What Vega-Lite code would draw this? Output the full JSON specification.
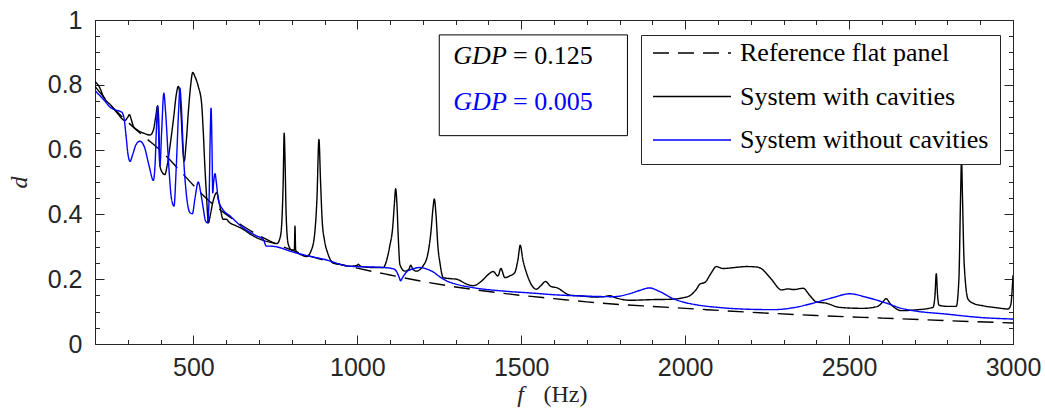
{
"$schema": "https://vega.github.io/schema/vega-lite/v6.json",
"width": 918,
"height": 324,
"autosize": {"type": "none"},
"padding": {"left": 95, "top": 20, "right": 32, "bottom": 75},
"background": "white",
"config": {
  "view": {"stroke": "#262626", "strokeWidth": 1},
  "axis": {"grid": false, "domain": false, "tickColor": "#262626", "tickWidth": 1, "labelFont": "Liberation Sans", "labelFontSize": 25, "labelColor": "#262626", "titleFont": "Liberation Serif", "titleFontSize": 24, "titleColor": "#262626", "titleFontWeight": "normal", "labelFlush": false, "labelOverlap": false}
},
"datasets": {
  "curves": [
{"f":200,"d":0.795,"s":"Reference flat panel"},{"f":250,"d":0.735,"s":"Reference flat panel"},{"f":300,"d":0.685,"s":"Reference flat panel"},{"f":350,"d":0.64,"s":"Reference flat panel"},{"f":400,"d":0.597,"s":"Reference flat panel"},{"f":450,"d":0.545,"s":"Reference flat panel"},{"f":500,"d":0.49,"s":"Reference flat panel"},{"f":550,"d":0.44,"s":"Reference flat panel"},{"f":600,"d":0.40,"s":"Reference flat panel"},{"f":650,"d":0.365,"s":"Reference flat panel"},{"f":700,"d":0.335,"s":"Reference flat panel"},{"f":750,"d":0.31,"s":"Reference flat panel"},{"f":800,"d":0.29,"s":"Reference flat panel"},{"f":900,"d":0.258,"s":"Reference flat panel"},{"f":1000,"d":0.234,"s":"Reference flat panel"},{"f":1100,"d":0.213,"s":"Reference flat panel"},{"f":1200,"d":0.193,"s":"Reference flat panel"},{"f":1300,"d":0.176,"s":"Reference flat panel"},{"f":1400,"d":0.162,"s":"Reference flat panel"},{"f":1500,"d":0.15,"s":"Reference flat panel"},{"f":1600,"d":0.14,"s":"Reference flat panel"},{"f":1700,"d":0.13,"s":"Reference flat panel"},{"f":1800,"d":0.122,"s":"Reference flat panel"},{"f":1900,"d":0.116,"s":"Reference flat panel"},{"f":2000,"d":0.11,"s":"Reference flat panel"},{"f":2200,"d":0.098,"s":"Reference flat panel"},{"f":2400,"d":0.088,"s":"Reference flat panel"},{"f":2600,"d":0.08,"s":"Reference flat panel"},{"f":2800,"d":0.072,"s":"Reference flat panel"},{"f":3000,"d":0.065,"s":"Reference flat panel"},

{"f":200,"d":0.81,"s":"System with cavities"},{"f":215,"d":0.79,"s":"System with cavities"},{"f":225,"d":0.765,"s":"System with cavities"},{"f":250,"d":0.735,"s":"System with cavities"},{"f":270,"d":0.71,"s":"System with cavities"},{"f":291,"d":0.69,"s":"System with cavities"},{"f":300,"d":0.70,"s":"System with cavities"},{"f":305,"d":0.708,"s":"System with cavities"},{"f":310,"d":0.695,"s":"System with cavities"},{"f":317,"d":0.672,"s":"System with cavities"},{"f":330,"d":0.66,"s":"System with cavities"},{"f":350,"d":0.65,"s":"System with cavities"},{"f":368,"d":0.645,"s":"System with cavities"},{"f":378,"d":0.66,"s":"System with cavities"},{"f":385,"d":0.70,"s":"System with cavities"},{"f":391,"d":0.735,"s":"System with cavities"},{"f":394,"d":0.70,"s":"System with cavities"},{"f":398,"d":0.55,"s":"System with cavities"},{"f":405,"d":0.53,"s":"System with cavities"},{"f":413,"d":0.523,"s":"System with cavities"},{"f":420,"d":0.55,"s":"System with cavities"},{"f":430,"d":0.62,"s":"System with cavities"},{"f":440,"d":0.70,"s":"System with cavities"},{"f":448,"d":0.77,"s":"System with cavities"},{"f":454,"d":0.795,"s":"System with cavities"},{"f":458,"d":0.78,"s":"System with cavities"},{"f":463,"d":0.70,"s":"System with cavities"},{"f":468,"d":0.60,"s":"System with cavities"},{"f":472,"d":0.564,"s":"System with cavities"},{"f":478,"d":0.62,"s":"System with cavities"},{"f":485,"d":0.72,"s":"System with cavities"},{"f":492,"d":0.80,"s":"System with cavities"},{"f":498,"d":0.838,"s":"System with cavities"},{"f":505,"d":0.825,"s":"System with cavities"},{"f":515,"d":0.795,"s":"System with cavities"},{"f":525,"d":0.744,"s":"System with cavities"},{"f":530,"d":0.66,"s":"System with cavities"},{"f":535,"d":0.55,"s":"System with cavities"},{"f":540,"d":0.46,"s":"System with cavities"},{"f":546,"d":0.374,"s":"System with cavities"},{"f":552,"d":0.40,"s":"System with cavities"},{"f":560,"d":0.44,"s":"System with cavities"},{"f":571,"d":0.467,"s":"System with cavities"},{"f":580,"d":0.43,"s":"System with cavities"},{"f":591,"d":0.385,"s":"System with cavities"},{"f":600,"d":0.385,"s":"System with cavities"},{"f":610,"d":0.375,"s":"System with cavities"},{"f":630,"d":0.365,"s":"System with cavities"},{"f":652,"d":0.354,"s":"System with cavities"},{"f":680,"d":0.335,"s":"System with cavities"},{"f":700,"d":0.325,"s":"System with cavities"},{"f":739,"d":0.313,"s":"System with cavities"},{"f":755,"d":0.31,"s":"System with cavities"},{"f":765,"d":0.33,"s":"System with cavities"},{"f":770,"d":0.38,"s":"System with cavities"},{"f":774,"d":0.50,"s":"System with cavities"},{"f":777,"d":0.651,"s":"System with cavities"},{"f":780,"d":0.55,"s":"System with cavities"},{"f":783,"d":0.40,"s":"System with cavities"},{"f":789,"d":0.31,"s":"System with cavities"},{"f":800,"d":0.29,"s":"System with cavities"},{"f":808,"d":0.29,"s":"System with cavities"},{"f":810,"d":0.364,"s":"System with cavities"},{"f":812,"d":0.29,"s":"System with cavities"},{"f":820,"d":0.28,"s":"System with cavities"},{"f":830,"d":0.275,"s":"System with cavities"},{"f":845,"d":0.27,"s":"System with cavities"},{"f":860,"d":0.29,"s":"System with cavities"},{"f":870,"d":0.34,"s":"System with cavities"},{"f":877,"d":0.45,"s":"System with cavities"},{"f":883,"d":0.631,"s":"System with cavities"},{"f":888,"d":0.50,"s":"System with cavities"},{"f":893,"d":0.38,"s":"System with cavities"},{"f":900,"d":0.32,"s":"System with cavities"},{"f":910,"d":0.28,"s":"System with cavities"},{"f":927,"d":0.25,"s":"System with cavities"},{"f":950,"d":0.245,"s":"System with cavities"},{"f":977,"d":0.24,"s":"System with cavities"},{"f":1000,"d":0.243,"s":"System with cavities"},{"f":1003,"d":0.246,"s":"System with cavities"},{"f":1010,"d":0.24,"s":"System with cavities"},{"f":1050,"d":0.236,"s":"System with cavities"},{"f":1079,"d":0.236,"s":"System with cavities"},{"f":1090,"d":0.26,"s":"System with cavities"},{"f":1099,"d":0.302,"s":"System with cavities"},{"f":1108,"d":0.36,"s":"System with cavities"},{"f":1113,"d":0.43,"s":"System with cavities"},{"f":1117,"d":0.479,"s":"System with cavities"},{"f":1121,"d":0.43,"s":"System with cavities"},{"f":1125,"d":0.33,"s":"System with cavities"},{"f":1130,"d":0.245,"s":"System with cavities"},{"f":1145,"d":0.225,"s":"System with cavities"},{"f":1157,"d":0.23,"s":"System with cavities"},{"f":1163,"d":0.243,"s":"System with cavities"},{"f":1170,"d":0.23,"s":"System with cavities"},{"f":1180,"d":0.225,"s":"System with cavities"},{"f":1200,"d":0.24,"s":"System with cavities"},{"f":1216,"d":0.282,"s":"System with cavities"},{"f":1225,"d":0.35,"s":"System with cavities"},{"f":1231,"d":0.42,"s":"System with cavities"},{"f":1235,"d":0.448,"s":"System with cavities"},{"f":1240,"d":0.40,"s":"System with cavities"},{"f":1246,"d":0.30,"s":"System with cavities"},{"f":1252,"d":0.251,"s":"System with cavities"},{"f":1262,"d":0.205,"s":"System with cavities"},{"f":1280,"d":0.202,"s":"System with cavities"},{"f":1303,"d":0.20,"s":"System with cavities"},{"f":1333,"d":0.185,"s":"System with cavities"},{"f":1354,"d":0.18,"s":"System with cavities"},{"f":1380,"d":0.195,"s":"System with cavities"},{"f":1400,"d":0.215,"s":"System with cavities"},{"f":1414,"d":0.224,"s":"System with cavities"},{"f":1429,"d":0.21,"s":"System with cavities"},{"f":1438,"d":0.233,"s":"System with cavities"},{"f":1450,"d":0.205,"s":"System with cavities"},{"f":1465,"d":0.21,"s":"System with cavities"},{"f":1480,"d":0.22,"s":"System with cavities"},{"f":1490,"d":0.26,"s":"System with cavities"},{"f":1497,"d":0.305,"s":"System with cavities"},{"f":1505,"d":0.26,"s":"System with cavities"},{"f":1516,"d":0.22,"s":"System with cavities"},{"f":1530,"d":0.185,"s":"System with cavities"},{"f":1546,"d":0.169,"s":"System with cavities"},{"f":1560,"d":0.18,"s":"System with cavities"},{"f":1574,"d":0.193,"s":"System with cavities"},{"f":1590,"d":0.178,"s":"System with cavities"},{"f":1613,"d":0.172,"s":"System with cavities"},{"f":1630,"d":0.16,"s":"System with cavities"},{"f":1648,"d":0.151,"s":"System with cavities"},{"f":1688,"d":0.148,"s":"System with cavities"},{"f":1720,"d":0.145,"s":"System with cavities"},{"f":1750,"d":0.146,"s":"System with cavities"},{"f":1771,"d":0.149,"s":"System with cavities"},{"f":1790,"d":0.142,"s":"System with cavities"},{"f":1831,"d":0.135,"s":"System with cavities"},{"f":1900,"d":0.137,"s":"System with cavities"},{"f":1953,"d":0.138,"s":"System with cavities"},{"f":1990,"d":0.142,"s":"System with cavities"},{"f":2014,"d":0.149,"s":"System with cavities"},{"f":2035,"d":0.17,"s":"System with cavities"},{"f":2045,"d":0.185,"s":"System with cavities"},{"f":2060,"d":0.19,"s":"System with cavities"},{"f":2080,"d":0.22,"s":"System with cavities"},{"f":2095,"d":0.239,"s":"System with cavities"},{"f":2115,"d":0.233,"s":"System with cavities"},{"f":2150,"d":0.236,"s":"System with cavities"},{"f":2187,"d":0.239,"s":"System with cavities"},{"f":2215,"d":0.238,"s":"System with cavities"},{"f":2232,"d":0.233,"s":"System with cavities"},{"f":2243,"d":0.223,"s":"System with cavities"},{"f":2263,"d":0.2,"s":"System with cavities"},{"f":2294,"d":0.167,"s":"System with cavities"},{"f":2314,"d":0.17,"s":"System with cavities"},{"f":2330,"d":0.168,"s":"System with cavities"},{"f":2360,"d":0.172,"s":"System with cavities"},{"f":2380,"d":0.15,"s":"System with cavities"},{"f":2400,"d":0.13,"s":"System with cavities"},{"f":2430,"d":0.126,"s":"System with cavities"},{"f":2471,"d":0.113,"s":"System with cavities"},{"f":2542,"d":0.11,"s":"System with cavities"},{"f":2587,"d":0.116,"s":"System with cavities"},{"f":2603,"d":0.13,"s":"System with cavities"},{"f":2613,"d":0.14,"s":"System with cavities"},{"f":2625,"d":0.125,"s":"System with cavities"},{"f":2638,"d":0.113,"s":"System with cavities"},{"f":2659,"d":0.103,"s":"System with cavities"},{"f":2700,"d":0.105,"s":"System with cavities"},{"f":2756,"d":0.113,"s":"System with cavities"},{"f":2762,"d":0.15,"s":"System with cavities"},{"f":2766,"d":0.217,"s":"System with cavities"},{"f":2770,"d":0.15,"s":"System with cavities"},{"f":2774,"d":0.12,"s":"System with cavities"},{"f":2800,"d":0.116,"s":"System with cavities"},{"f":2827,"d":0.116,"s":"System with cavities"},{"f":2835,"d":0.2,"s":"System with cavities"},{"f":2840,"d":0.45,"s":"System with cavities"},{"f":2843,"d":0.571,"s":"System with cavities"},{"f":2846,"d":0.45,"s":"System with cavities"},{"f":2851,"d":0.25,"s":"System with cavities"},{"f":2863,"d":0.138,"s":"System with cavities"},{"f":2880,"d":0.125,"s":"System with cavities"},{"f":2908,"d":0.118,"s":"System with cavities"},{"f":2950,"d":0.112,"s":"System with cavities"},{"f":2985,"d":0.108,"s":"System with cavities"},{"f":2993,"d":0.12,"s":"System with cavities"},{"f":3000,"d":0.212,"s":"System with cavities"},

{"f":200,"d":0.782,"s":"System without cavities"},{"f":230,"d":0.75,"s":"System without cavities"},{"f":246,"d":0.731,"s":"System without cavities"},{"f":270,"d":0.72,"s":"System without cavities"},{"f":281,"d":0.716,"s":"System without cavities"},{"f":288,"d":0.70,"s":"System without cavities"},{"f":295,"d":0.64,"s":"System without cavities"},{"f":300,"d":0.59,"s":"System without cavities"},{"f":307,"d":0.564,"s":"System without cavities"},{"f":315,"d":0.585,"s":"System without cavities"},{"f":325,"d":0.615,"s":"System without cavities"},{"f":337,"d":0.626,"s":"System without cavities"},{"f":350,"d":0.61,"s":"System without cavities"},{"f":365,"d":0.55,"s":"System without cavities"},{"f":378,"d":0.505,"s":"System without cavities"},{"f":383,"d":0.55,"s":"System without cavities"},{"f":388,"d":0.68,"s":"System without cavities"},{"f":391,"d":0.735,"s":"System without cavities"},{"f":394,"d":0.65,"s":"System without cavities"},{"f":398,"d":0.549,"s":"System without cavities"},{"f":403,"d":0.65,"s":"System without cavities"},{"f":410,"d":0.774,"s":"System without cavities"},{"f":415,"d":0.72,"s":"System without cavities"},{"f":425,"d":0.55,"s":"System without cavities"},{"f":433,"d":0.45,"s":"System without cavities"},{"f":441,"d":0.426,"s":"System without cavities"},{"f":448,"d":0.55,"s":"System without cavities"},{"f":455,"d":0.72,"s":"System without cavities"},{"f":459,"d":0.79,"s":"System without cavities"},{"f":463,"d":0.74,"s":"System without cavities"},{"f":470,"d":0.58,"s":"System without cavities"},{"f":480,"d":0.45,"s":"System without cavities"},{"f":490,"d":0.405,"s":"System without cavities"},{"f":497,"d":0.402,"s":"System without cavities"},{"f":505,"d":0.45,"s":"System without cavities"},{"f":515,"d":0.5,"s":"System without cavities"},{"f":522,"d":0.47,"s":"System without cavities"},{"f":530,"d":0.42,"s":"System without cavities"},{"f":537,"d":0.38,"s":"System without cavities"},{"f":543,"d":0.374,"s":"System without cavities"},{"f":548,"d":0.45,"s":"System without cavities"},{"f":551,"d":0.62,"s":"System without cavities"},{"f":554,"d":0.728,"s":"System without cavities"},{"f":557,"d":0.60,"s":"System without cavities"},{"f":559,"d":0.467,"s":"System without cavities"},{"f":562,"d":0.50,"s":"System without cavities"},{"f":566,"d":0.526,"s":"System without cavities"},{"f":570,"d":0.50,"s":"System without cavities"},{"f":576,"d":0.446,"s":"System without cavities"},{"f":590,"d":0.415,"s":"System without cavities"},{"f":612,"d":0.395,"s":"System without cavities"},{"f":650,"d":0.36,"s":"System without cavities"},{"f":690,"d":0.335,"s":"System without cavities"},{"f":713,"d":0.323,"s":"System without cavities"},{"f":723,"d":0.302,"s":"System without cavities"},{"f":735,"d":0.302,"s":"System without cavities"},{"f":753,"d":0.30,"s":"System without cavities"},{"f":800,"d":0.285,"s":"System without cavities"},{"f":850,"d":0.272,"s":"System without cavities"},{"f":896,"d":0.262,"s":"System without cavities"},{"f":977,"d":0.24,"s":"System without cavities"},{"f":1079,"d":0.236,"s":"System without cavities"},{"f":1110,"d":0.232,"s":"System without cavities"},{"f":1120,"d":0.223,"s":"System without cavities"},{"f":1128,"d":0.205,"s":"System without cavities"},{"f":1132,"d":0.195,"s":"System without cavities"},{"f":1138,"d":0.205,"s":"System without cavities"},{"f":1150,"d":0.222,"s":"System without cavities"},{"f":1170,"d":0.232,"s":"System without cavities"},{"f":1191,"d":0.236,"s":"System without cavities"},{"f":1210,"d":0.232,"s":"System without cavities"},{"f":1232,"d":0.222,"s":"System without cavities"},{"f":1252,"d":0.207,"s":"System without cavities"},{"f":1272,"d":0.195,"s":"System without cavities"},{"f":1300,"d":0.185,"s":"System without cavities"},{"f":1353,"d":0.174,"s":"System without cavities"},{"f":1450,"d":0.163,"s":"System without cavities"},{"f":1536,"d":0.157,"s":"System without cavities"},{"f":1600,"d":0.152,"s":"System without cavities"},{"f":1688,"d":0.148,"s":"System without cavities"},{"f":1781,"d":0.146,"s":"System without cavities"},{"f":1830,"d":0.155,"s":"System without cavities"},{"f":1860,"d":0.165,"s":"System without cavities"},{"f":1892,"d":0.173,"s":"System without cavities"},{"f":1920,"d":0.163,"s":"System without cavities"},{"f":1963,"d":0.14,"s":"System without cavities"},{"f":2000,"d":0.128,"s":"System without cavities"},{"f":2034,"d":0.121,"s":"System without cavities"},{"f":2100,"d":0.113,"s":"System without cavities"},{"f":2200,"d":0.107,"s":"System without cavities"},{"f":2268,"d":0.106,"s":"System without cavities"},{"f":2330,"d":0.112,"s":"System without cavities"},{"f":2390,"d":0.126,"s":"System without cavities"},{"f":2450,"d":0.143,"s":"System without cavities"},{"f":2502,"d":0.155,"s":"System without cavities"},{"f":2550,"d":0.145,"s":"System without cavities"},{"f":2614,"d":0.126,"s":"System without cavities"},{"f":2660,"d":0.11,"s":"System without cavities"},{"f":2695,"d":0.103,"s":"System without cavities"},{"f":2800,"d":0.092,"s":"System without cavities"},{"f":2898,"d":0.082,"s":"System without cavities"},{"f":3000,"d":0.077,"s":"System without cavities"}
  ],
  "gdp": [
    {"name": "GDP", "val": "= 0.125", "run": "a"},
    {"name": "GDP", "val": "= 0.005", "run": "b"}
  ]
},
"layer": [
  {
    "data": {"name": "curves"},
    "mark": {"type": "line", "strokeWidth": 1.4, "interpolate": "monotone", "clip": true},
    "encoding": {
      "x": {"field": "f", "type": "quantitative",
        "scale": {"domain": [200, 3000], "nice": false, "zero": false},
        "axis": {"orient": "bottom", "values": [500, 1000, 1500, 2000, 2500, 3000], "format": "d", "tickSize": -9, "labelPadding": 20, "labelBaseline": "top",
          "title": "f", "titleFontStyle": "italic", "titleX": 425, "titleY": 57, "titleBaseline": "alphabetic", "titleAlign": "center", "titleAngle": 0}},
      "y": {"field": "d", "type": "quantitative",
        "scale": {"domain": [0, 1], "nice": false, "zero": false},
        "axis": {"orient": "left", "values": [0, 0.2, 0.4, 0.6, 0.8, 1], "format": "~g", "tickSize": -9, "labelPadding": 22,
          "title": "d", "titleFontStyle": "italic", "titleX": -76, "titleY": 162, "titleAngle": 270, "titleBaseline": "middle", "titleAlign": "center"}},
      "color": {"field": "s", "type": "nominal",
        "scale": {"domain": ["Reference flat panel", "System with cavities", "System without cavities"], "range": ["#000000", "#000000", "#0000ff"]},
        "legend": {"title": null, "orient": "none", "legendX": 546, "legendY": 15, "direction": "vertical", "symbolType": "stroke", "symbolSize": 6084, "symbolStrokeWidth": 1.4, "clipHeight": 14, "rowPadding": 17.5, "labelFont": "Liberation Serif", "labelFontSize": 26, "labelColor": "#000000", "labelOffset": 8, "labelLimit": 500, "padding": 11, "strokeColor": "#262626", "fillColor": "white", "cornerRadius": 0}},
      "strokeDash": {"field": "s", "type": "nominal",
        "scale": {"domain": ["Reference flat panel", "System with cavities", "System without cavities"], "range": [[16, 9], [1, 0], [1, 0]]},
        "legend": {"title": null, "orient": "none", "legendX": 546, "legendY": 15, "direction": "vertical", "symbolType": "stroke", "symbolSize": 6084, "symbolStrokeWidth": 1.4, "clipHeight": 14, "rowPadding": 17.5, "labelFont": "Liberation Serif", "labelFontSize": 26, "labelColor": "#000000", "labelOffset": 8, "labelLimit": 500, "padding": 11, "strokeColor": "#262626", "fillColor": "white", "cornerRadius": 0}}
    }
  },
  {
    "data": {"values": [{"box": "GDP"}]},
    "mark": {"type": "rect", "fill": "white", "stroke": "#000000", "strokeWidth": 1},
    "encoding": {
      "x": {"datum": 1250, "type": "quantitative",
        "axis": {"orient": "bottom", "values": [200,300,400,500,600,700,800,900,1000,1100,1200,1300,1400,1500,1600,1700,1800,1900,2000,2100,2200,2300,2400,2500,2600,2700,2800,2900,3000], "tickSize": -4.5, "labels": false,
          "title": "(Hz)", "titleFontStyle": "normal", "titleX": 470, "titleY": 57, "titleBaseline": "alphabetic", "titleAlign": "center", "titleAngle": 0}},
      "x2": {"datum": 1824},
      "y": {"datum": 0.954, "type": "quantitative",
        "axis": {"orient": "left", "values": [0,0.05,0.1,0.15,0.2,0.25,0.3,0.35,0.4,0.45,0.5,0.55,0.6,0.65,0.7,0.75,0.8,0.85,0.9,0.95,1], "tickSize": -4.5, "labels": false, "title": null}},
      "y2": {"datum": 0.643}
    }
  },
  {
    "data": {"name": "gdp"},
    "transform": [{"filter": "datum.run == 'a'"}],
    "mark": {"type": "text", "font": "Liberation Serif", "fontStyle": "italic", "fontSize": 26, "align": "left", "baseline": "alphabetic", "color": "#000000"},
    "encoding": {
      "text": {"field": "name"},
      "x": {"datum": 1293, "type": "quantitative",
        "axis": {"orient": "top", "values": [500, 1000, 1500, 2000, 2500, 3000], "tickSize": -9, "labels": false, "title": null}},
      "y": {"datum": 0.863, "type": "quantitative",
        "axis": {"orient": "right", "values": [0, 0.2, 0.4, 0.6, 0.8, 1], "tickSize": -9, "labels": false, "title": null}}
    }
  },
  {
    "data": {"name": "gdp"},
    "transform": [{"filter": "datum.run == 'a'"}],
    "mark": {"type": "text", "font": "Liberation Serif", "fontSize": 26, "align": "left", "baseline": "alphabetic", "color": "#000000"},
    "encoding": {
      "text": {"field": "val"},
      "x": {"datum": 1475, "type": "quantitative",
        "axis": {"orient": "top", "values": [200,300,400,500,600,700,800,900,1000,1100,1200,1300,1400,1500,1600,1700,1800,1900,2000,2100,2200,2300,2400,2500,2600,2700,2800,2900,3000], "tickSize": -4.5, "labels": false, "title": null}},
      "y": {"datum": 0.863, "type": "quantitative",
        "axis": {"orient": "right", "values": [0,0.05,0.1,0.15,0.2,0.25,0.3,0.35,0.4,0.45,0.5,0.55,0.6,0.65,0.7,0.75,0.8,0.85,0.9,0.95,1], "tickSize": -4.5, "labels": false, "title": null}}
    }
  },
  {
    "data": {"name": "gdp"},
    "transform": [{"filter": "datum.run == 'b'"}],
    "mark": {"type": "text", "font": "Liberation Serif", "fontStyle": "italic", "fontSize": 26, "align": "left", "baseline": "alphabetic", "color": "#0000ff"},
    "encoding": {
      "text": {"field": "name"},
      "x": {"datum": 1293, "type": "quantitative", "axis": null},
      "y": {"datum": 0.722, "type": "quantitative", "axis": null}
    }
  },
  {
    "data": {"name": "gdp"},
    "transform": [{"filter": "datum.run == 'b'"}],
    "mark": {"type": "text", "font": "Liberation Serif", "fontSize": 26, "align": "left", "baseline": "alphabetic", "color": "#0000ff"},
    "encoding": {
      "text": {"field": "val"},
      "x": {"datum": 1475, "type": "quantitative", "axis": null},
      "y": {"datum": 0.722, "type": "quantitative", "axis": null}
    }
  }
],
"resolve": {"axis": {"x": "independent", "y": "independent"}}
}
